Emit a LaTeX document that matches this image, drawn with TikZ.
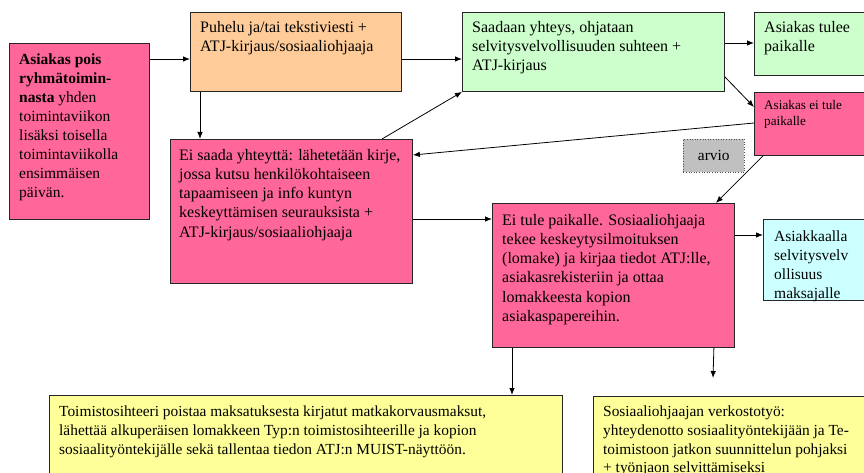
\documentclass[tikz,border=0pt]{standalone}
\usepackage{fontspec}
\setmainfont{Liberation Serif}
\usetikzlibrary{arrows.meta,calc}
\definecolor{cpink}{HTML}{FF6699}
\definecolor{corange}{HTML}{FFCC99}
\definecolor{cgreen}{HTML}{CCFFCC}
\definecolor{ccyan}{HTML}{CCFFFF}
\definecolor{cyellow}{HTML}{FFFF99}
\definecolor{cgray}{HTML}{C0C0C0}
\tikzset{
  box/.style={draw=black!85, line width=0.9pt, inner sep=0pt, anchor=north west, rectangle},
  txt/.style={anchor=north west, inner sep=0pt, align=left, text=black},
  big/.style={font=\fontsize{16}{19.2}\selectfont},
  mid/.style={font=\fontsize{15.4}{18.7}\selectfont},
  small/.style={font=\fontsize{13.2}{15.8}\selectfont},
  arr/.style={draw=black, line width=0.8pt, -{Latex[length=7pt,width=5.5pt]}},
}
\begin{document}
\begin{tikzpicture}[x=1pt,y=-1pt]
\useasboundingbox (0,0) rectangle (864,473);
% boxes
\node[box, fill=cpink, minimum width=140, minimum height=176] (A) at (9,43) {};
\node[box, fill=corange, minimum width=211, minimum height=79] (B) at (190,12) {};
\node[box, fill=cgreen, minimum width=262, minimum height=79] (C) at (462,12) {};
\node[box, fill=cgreen, minimum width=126, minimum height=63] (D) at (754,12) {};
\node[box, fill=cpink, minimum width=126, minimum height=63] (E) at (754,92) {};
\node[box, fill=cgray, draw=black!70, line width=0.6pt, dotted, minimum width=61, minimum height=33] (R) at (683,139) {};
\node[box, fill=cpink, minimum width=242, minimum height=144] (F) at (170,139) {};
\node[box, fill=cpink, minimum width=242, minimum height=144] (G) at (492,203) {};
\node[box, fill=ccyan, minimum width=117, minimum height=81] (H) at (763,219) {};
\node[box, fill=cyellow, minimum width=513, minimum height=110] (I) at (49,395) {};
\node[box, fill=cyellow, minimum width=290, minimum height=110] (J) at (593,396) {};
% texts
\node[txt, mid, font=\fontsize{15.5}{19}\selectfont] (tA) at (19,54) {\textbf{Asiakas pois}\\\textbf{ryhmätoimin-}\\\textbf{nasta} yhden\\toimintaviikon\\lisäksi toisella\\toimintaviikolla\\ensimmäisen\\päivän.};
\node[txt, big] (tB) at (200,21) {Puhelu ja/tai tekstiviesti +\\ATJ-kirjaus/sosiaaliohjaaja};
\node[txt, big] (tC) at (472,21) {Saadaan yhteys, ohjataan\\selvitysvelvollisuuden suhteen +\\ATJ-kirjaus};
\node[txt, big] (tD) at (764,21) {Asiakas tulee\\paikalle};
\node[txt, small] (tE) at (764,100) {Asiakas ei tule\\paikalle};
\node[mid, inner sep=0pt] (tR) at (R.center) {arvio};
\node[txt, big] (tF) at (179,149) {Ei saada yhteyttä: lähetetään kirje,\\jossa kutsu henkilökohtaiseen\\tapaamiseen ja info kuntyn\\keskeyttämisen seurauksista +\\ATJ-kirjaus/sosiaaliohjaaja};
\node[txt, big] (tG) at (502,214) {Ei tule paikalle. Sosiaaliohjaaja\\tekee keskeytysilmoituksen\\(lomake) ja kirjaa tiedot ATJ:lle,\\asiakasrekisteriin ja ottaa\\lomakkeesta kopion\\asiakaspapereihin.};
\node[txt, font=\fontsize{15.5}{18.8}\selectfont] (tH) at (774,231) {Asiakkaalla\\selvitysvelv\\ollisuus\\maksajalle};
\node[txt, mid] (tI) at (59,406) {Toimistosihteeri poistaa maksatuksesta kirjatut matkakorvausmaksut,\\lähettää alkuperäisen lomakkeen Typ:n toimistosihteerille ja kopion\\sosiaalityöntekijälle sekä tallentaa tiedon ATJ:n MUIST-näyttöön.};
\node[txt, mid] (tJ) at (603,406) {Sosiaaliohjaajan verkostotyö:\\yhteydenotto sosiaalityöntekijään ja Te-\\toimistoon jatkon suunnittelun pohjaksi\\+ työnjaon selvittämiseksi};
% connectors
\draw[arr] ($(A.north east)+(0,16)$) -- ($(B.north west)+(0,47)$);
\draw[arr] ($(B.north east)+(0,47)$) -- ($(C.north west)+(0,47)$);
\draw[arr] ($(B.south west)+(10,0)$) -- ($(F.north west)+(30,0)$);
\draw[arr] ($(F.north west)+(212,0)$) -- (C.south west);
\draw[arr] ($(C.north east)+(0,31)$) -- ($(D.north west)+(0,31)$);
\draw[arr] ($(C.south east)+(0,-15)$) -- ($(E.north west)+(0,15)$);
\draw[arr] ($(E.north west)+(0,31)$) -- ($(F.north east)+(0,16)$);
\draw[arr] ($(E.south west)+(9,0)$) -- ($(G.north east)+(-19,0)$);
\draw[arr] ($(F.north east)+(0,80)$) -- ($(G.north west)+(0,16)$);
\draw[arr] ($(G.north east)+(0,32)$) -- ($(H.north west)+(0,16)$);
\draw[arr] ($(G.south west)+(20,0)$) -- ($(I.north west)+(463,0)$);
\draw[arr] ($(G.south east)+(-21,0)$) -- ($(J.north west)+(120,-18)$);
\end{tikzpicture}
\end{document}
